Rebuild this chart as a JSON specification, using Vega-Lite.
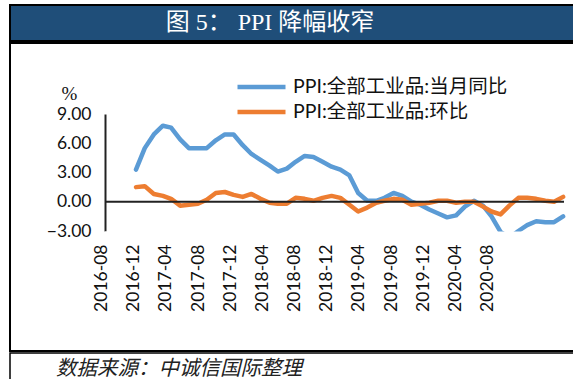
{
  "$schema": "https://vega.github.io/schema/vega-lite/v6.json",
  "padding": {"left": 9, "top": 4, "right": 0, "bottom": 0},
  "background": "white",
  "spacing": 0,
  "config": {"view": {"stroke": null}, "font": "Lato"},
  "vconcat": [
    {
      "width": 570,
      "height": 36,
      "view": {"fill": "#1f4e79", "stroke": "#000", "strokeWidth": 2},
      "data": {"values": [{"t": "图 5： PPI 降幅收窄"}]},
      "mark": {"type": "text", "color": "white", "font": "Liberation Serif, Noto Sans CJK SC", "fontSize": 24, "dx": -25, "baseline": "middle"},
      "encoding": {"text": {"field": "t"}}
    },
    {
      "width": 570,
      "height": 308,
      "view": {"stroke": "#000", "strokeWidth": 2},
      "resolve": {"scale": {"x": "independent"}, "axis": {"x": "independent"}},
      "layer": [
        {
          "layer": [
            {
              "data": {"values": [
                {"date": "2016-11-01", "PPI:全部工业品:当月同比": 3.3, "PPI:全部工业品:环比": 1.5},
                {"date": "2016-12-01", "PPI:全部工业品:当月同比": 5.5, "PPI:全部工业品:环比": 1.6},
                {"date": "2017-01-01", "PPI:全部工业品:当月同比": 6.9, "PPI:全部工业品:环比": 0.8},
                {"date": "2017-02-01", "PPI:全部工业品:当月同比": 7.8, "PPI:全部工业品:环比": 0.6},
                {"date": "2017-03-01", "PPI:全部工业品:当月同比": 7.6, "PPI:全部工业品:环比": 0.3},
                {"date": "2017-04-01", "PPI:全部工业品:当月同比": 6.4, "PPI:全部工业品:环比": -0.4},
                {"date": "2017-05-01", "PPI:全部工业品:当月同比": 5.5, "PPI:全部工业品:环比": -0.3},
                {"date": "2017-06-01", "PPI:全部工业品:当月同比": 5.5, "PPI:全部工业品:环比": -0.2},
                {"date": "2017-07-01", "PPI:全部工业品:当月同比": 5.5, "PPI:全部工业品:环比": 0.2},
                {"date": "2017-08-01", "PPI:全部工业品:当月同比": 6.3, "PPI:全部工业品:环比": 0.9},
                {"date": "2017-09-01", "PPI:全部工业品:当月同比": 6.9, "PPI:全部工业品:环比": 1.0},
                {"date": "2017-10-01", "PPI:全部工业品:当月同比": 6.9, "PPI:全部工业品:环比": 0.7},
                {"date": "2017-11-01", "PPI:全部工业品:当月同比": 5.8, "PPI:全部工业品:环比": 0.5},
                {"date": "2017-12-01", "PPI:全部工业品:当月同比": 4.9, "PPI:全部工业品:环比": 0.8},
                {"date": "2018-01-01", "PPI:全部工业品:当月同比": 4.3, "PPI:全部工业品:环比": 0.3},
                {"date": "2018-02-01", "PPI:全部工业品:当月同比": 3.7, "PPI:全部工业品:环比": -0.1},
                {"date": "2018-03-01", "PPI:全部工业品:当月同比": 3.1, "PPI:全部工业品:环比": -0.2},
                {"date": "2018-04-01", "PPI:全部工业品:当月同比": 3.4, "PPI:全部工业品:环比": -0.2},
                {"date": "2018-05-01", "PPI:全部工业品:当月同比": 4.1, "PPI:全部工业品:环比": 0.4},
                {"date": "2018-06-01", "PPI:全部工业品:当月同比": 4.7, "PPI:全部工业品:环比": 0.3},
                {"date": "2018-07-01", "PPI:全部工业品:当月同比": 4.6, "PPI:全部工业品:环比": 0.1},
                {"date": "2018-08-01", "PPI:全部工业品:当月同比": 4.1, "PPI:全部工业品:环比": 0.4},
                {"date": "2018-09-01", "PPI:全部工业品:当月同比": 3.6, "PPI:全部工业品:环比": 0.6},
                {"date": "2018-10-01", "PPI:全部工业品:当月同比": 3.3, "PPI:全部工业品:环比": 0.4},
                {"date": "2018-11-01", "PPI:全部工业品:当月同比": 2.7, "PPI:全部工业品:环比": -0.3},
                {"date": "2018-12-01", "PPI:全部工业品:当月同比": 0.9, "PPI:全部工业品:环比": -1.0},
                {"date": "2019-01-01", "PPI:全部工业品:当月同比": 0.1, "PPI:全部工业品:环比": -0.6},
                {"date": "2019-02-01", "PPI:全部工业品:当月同比": 0.1, "PPI:全部工业品:环比": -0.1},
                {"date": "2019-03-01", "PPI:全部工业品:当月同比": 0.4, "PPI:全部工业品:环比": 0.1},
                {"date": "2019-04-01", "PPI:全部工业品:当月同比": 0.9, "PPI:全部工业品:环比": 0.3},
                {"date": "2019-05-01", "PPI:全部工业品:当月同比": 0.6, "PPI:全部工业品:环比": 0.2},
                {"date": "2019-06-01", "PPI:全部工业品:当月同比": 0.0, "PPI:全部工业品:环比": -0.3},
                {"date": "2019-07-01", "PPI:全部工业品:当月同比": -0.3, "PPI:全部工业品:环比": -0.2},
                {"date": "2019-08-01", "PPI:全部工业品:当月同比": -0.8, "PPI:全部工业品:环比": -0.1},
                {"date": "2019-09-01", "PPI:全部工业品:当月同比": -1.2, "PPI:全部工业品:环比": 0.1},
                {"date": "2019-10-01", "PPI:全部工业品:当月同比": -1.6, "PPI:全部工业品:环比": 0.1},
                {"date": "2019-11-01", "PPI:全部工业品:当月同比": -1.4, "PPI:全部工业品:环比": -0.1},
                {"date": "2019-12-01", "PPI:全部工业品:当月同比": -0.5, "PPI:全部工业品:环比": 0.0},
                {"date": "2020-01-01", "PPI:全部工业品:当月同比": 0.1, "PPI:全部工业品:环比": 0.0},
                {"date": "2020-02-01", "PPI:全部工业品:当月同比": -0.4, "PPI:全部工业品:环比": -0.5},
                {"date": "2020-03-01", "PPI:全部工业品:当月同比": -1.5, "PPI:全部工业品:环比": -1.0},
                {"date": "2020-04-01", "PPI:全部工业品:当月同比": -3.1, "PPI:全部工业品:环比": -1.3},
                {"date": "2020-05-01", "PPI:全部工业品:当月同比": -3.7, "PPI:全部工业品:环比": -0.4},
                {"date": "2020-06-01", "PPI:全部工业品:当月同比": -3.0, "PPI:全部工业品:环比": 0.4},
                {"date": "2020-07-01", "PPI:全部工业品:当月同比": -2.4, "PPI:全部工业品:环比": 0.4},
                {"date": "2020-08-01", "PPI:全部工业品:当月同比": -2.0, "PPI:全部工业品:环比": 0.3},
                {"date": "2020-09-01", "PPI:全部工业品:当月同比": -2.1, "PPI:全部工业品:环比": 0.1},
                {"date": "2020-10-01", "PPI:全部工业品:当月同比": -2.1, "PPI:全部工业品:环比": 0.0},
                {"date": "2020-11-01", "PPI:全部工业品:当月同比": -1.5, "PPI:全部工业品:环比": 0.5}
              ]},
              "transform": [{"fold": ["PPI:全部工业品:当月同比", "PPI:全部工业品:环比"], "as": ["series", "value"]}],
              "mark": {"type": "line", "strokeWidth": 4.5, "strokeJoin": "round", "strokeCap": "round"},
              "encoding": {
                "x": {
                  "field": "date", "type": "temporal",
                  "scale": {"domain": [{"year": 2016, "month": 7, "date": 18}, {"year": 2020, "month": 11, "date": 4}], "range": [95, 554]},
                  "axis": null
                },
                "y": {
                  "field": "value", "type": "quantitative",
                  "scale": {"domain": [-3, 9], "range": [188, 71], "nice": false, "zero": false},
                  "axis": {
                    "orient": "left", "offset": -95, "values": [-3, 0, 3, 6, 9], "format": ".2f",
                    "grid": false, "ticks": false, "domain": true, "domainColor": "#222", "domainWidth": 2,
                    "labelFont": "Lato", "labelFontSize": 17.5, "labelColor": "#111", "labelPadding": 14,
                    "title": "%", "titleAngle": 0, "titleX": -36, "titleY": 50, "titleAlign": "center", "titleBaseline": "middle",
                    "titleFont": "Liberation Serif", "titleFontSize": 19, "titleFontWeight": "normal", "titleColor": "#111"
                  }
                },
                "color": {
                  "field": "series", "type": "nominal",
                  "scale": {"domain": ["PPI:全部工业品:当月同比", "PPI:全部工业品:环比"], "range": ["#5b9bd5", "#ed7d31"]},
                  "legend": {
                    "orient": "none", "legendX": 225, "legendY": 72, "title": null,
                    "symbolType": "stroke", "symbolSize": 2304, "symbolStrokeWidth": 4.5,
                    "labelFont": "Lato, Noto Sans CJK SC", "labelFontSize": 19.5, "labelColor": "#111",
                    "labelOffset": 5, "labelLimit": 0, "clipHeight": 20, "rowPadding": 5
                  }
                }
              }
            },
            {
              "data": {"values": [{}]},
              "mark": {"type": "rect", "color": "white"},
              "encoding": {
                "x": {"datum": {"year": 2016, "month": 7, "date": 18}, "type": "temporal"},
                "x2": {"datum": {"year": 2020, "month": 11, "date": 4}},
                "y": {"datum": -3.05, "type": "quantitative"},
                "y2": {"datum": -4}
              }
            },
            {
              "data": {"values": [{}]},
              "mark": {"type": "rule", "color": "#222", "strokeWidth": 2},
              "encoding": {
                "x": {"datum": {"year": 2016, "month": 7, "date": 18}, "type": "temporal"},
                "x2": {"datum": {"year": 2020, "month": 11, "date": 4}},
                "y": {"datum": 0, "type": "quantitative"}
              }
            }
          ]
        },
        {
          "data": {"values": [
            {"lab": "2016-08"}, {"lab": "2016-12"}, {"lab": "2017-04"}, {"lab": "2017-08"}, {"lab": "2017-12"},
            {"lab": "2018-04"}, {"lab": "2018-08"}, {"lab": "2018-12"}, {"lab": "2019-04"}, {"lab": "2019-08"},
            {"lab": "2019-12"}, {"lab": "2020-04"}, {"lab": "2020-08"}
          ]},
          "mark": {"type": "point", "opacity": 0},
          "encoding": {
            "x": {
              "field": "lab", "type": "ordinal", "sort": null,
              "scale": {"type": "point", "range": [91.5, 477.5], "padding": 0},
              "axis": {
                "orient": "bottom", "offset": -120, "domain": false, "ticks": false, "grid": false,
                "labelAngle": -90, "labelPadding": 13, "labelFont": "Lato", "labelFontSize": 17.5, "labelColor": "#111",
                "title": null
              }
            }
          }
        }
      ]
    },
    {
      "width": 570,
      "height": 40,
      "view": {"stroke": "#000", "strokeWidth": 1.5},
      "data": {"values": [{"t": "数据来源：中诚信国际整理"}]},
      "mark": {"type": "text", "align": "left", "baseline": "middle", "dx": -239, "dy": -4, "font": "Noto Sans CJK SC", "fontStyle": "italic", "fontSize": 20.5, "color": "#222"},
      "encoding": {"text": {"field": "t"}}
    }
  ]
}
